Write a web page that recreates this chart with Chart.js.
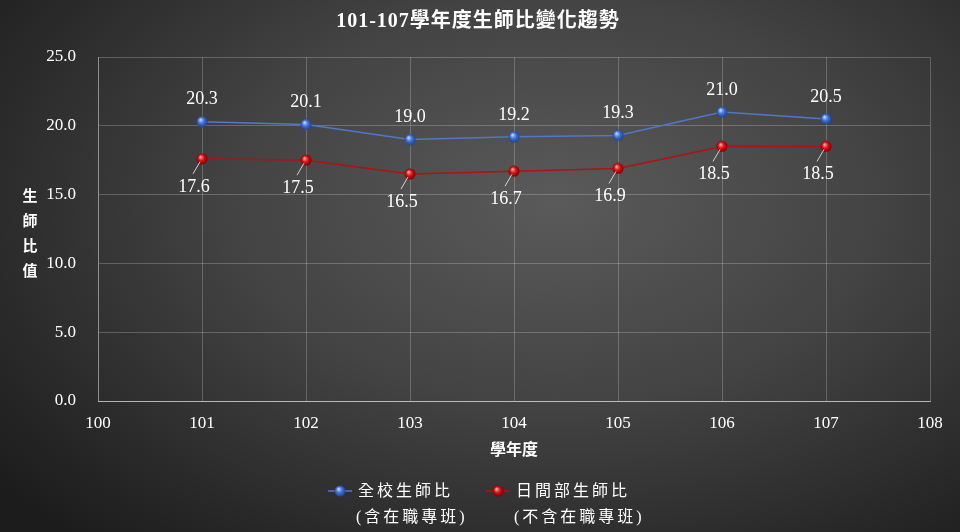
<!DOCTYPE html>
<html>
<head>
<meta charset="utf-8">
<script src="https://cdn.jsdelivr.net/npm/chart.js@4"></script>
<style>
  html, body { margin: 0; padding: 0; }
  body {
    width: 960px; height: 532px; overflow: hidden;
    background: radial-gradient(ellipse 75% 85% at 58% 38%, #5a5a5a 0%, #434343 45%, #262626 85%, #1c1c1c 100%);
  }
  #wrap { position: relative; width: 960px; height: 532px; }
</style>
</head>
<body>
<div id="wrap"><canvas id="chart"></canvas></div>
<script>
//data
const years = [101, 102, 103, 104, 105, 106, 107];
const wholeSchool = [20.3, 20.1, 19.0, 19.2, 19.3, 21.0, 20.5];
const daySchool = [17.6, 17.5, 16.5, 16.7, 16.9, 18.5, 18.5];
const seriesNames = [["全校生師比", "(含在職專班)"], ["日間部生師比", "(不含在職專班)"]];
const titleText = "101-107學年度生師比變化趨勢";
const yTitle = ["生", "師", "比", "值"];
const xTitle = "學年度";

const serif = "'Liberation Serif', 'Noto Sans CJK TC', serif";
const cjk = "'Noto Sans CJK TC', 'Liberation Serif', serif";

//little shaded ball used as the marker
function makeBall(light, mid, dark) {
  const c = document.createElement("canvas");
  c.width = 12; c.height = 12;
  const g = c.getContext("2d");
  const grad = g.createRadialGradient(4.5, 4, 0.5, 6, 6, 6);
  grad.addColorStop(0, light);
  grad.addColorStop(0.45, mid);
  grad.addColorStop(1, dark);
  g.fillStyle = grad;
  g.beginPath();
  g.arc(6, 6, 5.5, 0, Math.PI * 2);
  g.fill();
  return c;
}
const blueBall = makeBall("#b8d0ff", "#3e72d6", "#1c3d80");
const redBall = makeBall("#ff9a9a", "#d81010", "#6a0000");

//values above / below the points
const valueLabels = {
  id: "valueLabels",
  afterDatasetsDraw(chart) {
    const ctx = chart.ctx;
    ctx.save();
    ctx.font = "18px " + serif;
    ctx.fillStyle = "#ffffff";
    ctx.textAlign = "center";
    ctx.textBaseline = "middle";
    chart.getDatasetMeta(0).data.forEach((pt, i) => {
      ctx.fillText(wholeSchool[i].toFixed(1), pt.x, pt.y - 22);
    });
    chart.getDatasetMeta(1).data.forEach((pt, i) => {
      ctx.strokeStyle = "rgba(255,255,255,0.75)";
      ctx.lineWidth = 1;
      ctx.beginPath();
      ctx.moveTo(pt.x - 2, pt.y + 3);
      ctx.lineTo(pt.x - 9, pt.y + 15);
      ctx.stroke();
      ctx.fillText(daySchool[i].toFixed(1), pt.x - 8, pt.y + 28);
    });
    ctx.restore();
  }
};

//title, axis titles and legend drawn by hand
const decorations = {
  id: "decorations",
  afterDraw(chart) {
    const ctx = chart.ctx;
    const area = chart.chartArea;
    ctx.save();
    ctx.fillStyle = "#ffffff";
    ctx.textAlign = "center";
    ctx.textBaseline = "middle";

    ctx.font = "bold 20px " + serif;
    ctx.letterSpacing = "1px";
    ctx.fillText(titleText, 478, 22);

    ctx.font = "bold 15px " + cjk;
    ctx.letterSpacing = "0px";
    yTitle.forEach((ch, i) => ctx.fillText(ch, 30, 195 + i * 25));

    ctx.font = "bold 16px " + cjk;
    ctx.fillText(xTitle, (area.left + area.right) / 2, 449);

    //legend
    const entries = [
      { x: 328, line: "#4f78c8", ball: blueBall, text: seriesNames[0] },
      { x: 486, line: "#b41010", ball: redBall, text: seriesNames[1] }
    ];
    ctx.textAlign = "left";
    ctx.font = "16px " + serif;
    ctx.letterSpacing = "3px";
    entries.forEach(e => {
      ctx.strokeStyle = e.line;
      ctx.lineWidth = 1.5;
      ctx.beginPath();
      ctx.moveTo(e.x, 491);
      ctx.lineTo(e.x + 24, 491);
      ctx.stroke();
      ctx.drawImage(e.ball, e.x + 6, 485);
      ctx.fillText(e.text[0], e.x + 30, 492);
      ctx.fillText(e.text[1], e.x + 28, 518);
    });
    ctx.restore();
  }
};

const ctx = document.getElementById("chart").getContext("2d");
new Chart(ctx, {
  type: "line",
  data: {
    datasets: [
      {
        label: seriesNames[0].join(""),
        data: years.map((y, i) => ({ x: y, y: wholeSchool[i] })),
        borderColor: "#4f78c8",
        borderWidth: 1.5,
        pointStyle: blueBall,
        pointRadius: 6
      },
      {
        label: seriesNames[1].join(""),
        data: years.map((y, i) => ({ x: y, y: daySchool[i] })),
        borderColor: "#b41010",
        borderWidth: 1.5,
        pointStyle: redBall,
        pointRadius: 6
      }
    ]
  },
  options: {
    responsive: true,
    maintainAspectRatio: false,
    animation: false,
    layout: { padding: { top: 57, right: 30, left: 0, bottom: 0 } },
    plugins: {
      legend: { display: false },
      title: { display: false },
      tooltip: { enabled: false }
    },
    scales: {
      x: {
        type: "linear",
        min: 100,
        max: 108,
        ticks: {
          stepSize: 1,
          color: "#ffffff",
          padding: 12,
          font: { family: serif, size: 17 },
          callback: v => String(v)
        },
        grid: { color: "rgba(255,255,255,0.22)", drawTicks: false },
        border: { color: "rgba(255,255,255,0.55)" },
        afterFit: scale => { scale.height = 131; }
      },
      y: {
        min: 0,
        max: 25,
        ticks: {
          stepSize: 5,
          color: "#ffffff",
          padding: 22,
          font: { family: serif, size: 17 },
          callback: v => Number(v).toFixed(1)
        },
        grid: { color: "rgba(255,255,255,0.22)", drawTicks: false },
        border: { color: "rgba(255,255,255,0.3)" },
        afterFit: scale => { scale.width = 98; }
      }
    }
  },
  plugins: [valueLabels, decorations]
});
</script>
</body>
</html>
